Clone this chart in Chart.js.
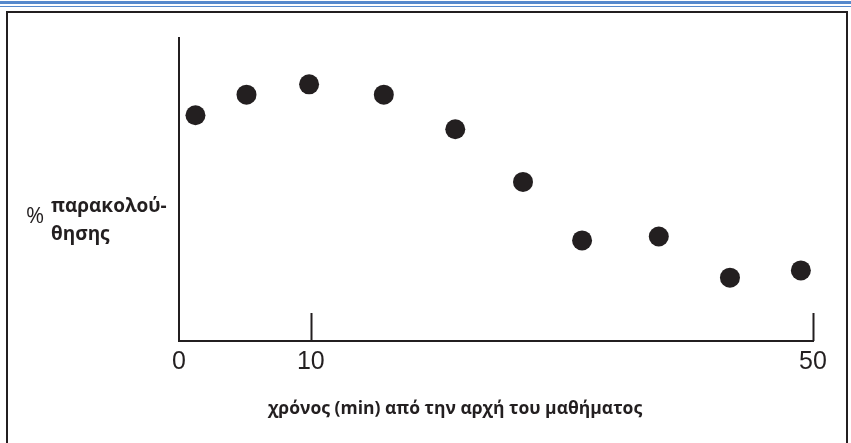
<!DOCTYPE html>
<html>
<head>
<meta charset="utf-8">
<script src="https://cdn.jsdelivr.net/npm/chart.js@4/dist/chart.umd.min.js"></script>
<style>
  html, body { margin: 0; padding: 0; background: #fff; }
  #wrap { position: relative; width: 851px; height: 443px; overflow: hidden; background: #fff; }
  #blue1 { position: absolute; left: 0; top: 1px; width: 851px; height: 3px; background: #5689cc; }
  #blue2 { position: absolute; left: 0; top: 6px; width: 851px; height: 1px; background: #5689cc; }
  #frame { position: absolute; left: 6px; top: 11px; width: 838px; height: 450px; border: 2px solid #231f20; }
  #c { position: absolute; left: 0; top: 0; }
</style>
</head>
<body>
<div id="wrap">
  <div id="blue1"></div>
  <div id="blue2"></div>
  <div id="frame"></div>
  <canvas id="c" width="851" height="443"></canvas>
</div>
<script>
// time since start of lesson (minutes)
const timeMin = [1.25, 5.12, 9.87, 15.54, 20.96, 26.1, 30.58, 36.4, 41.8, 47.18];
// % attention (arbitrary 0-100 scale, axis has no values)
const attentionPct = [74.5, 81.3, 84.7, 81.3, 69.9, 52.5, 33.2, 34.5, 20.9, 23.3];
// tick positions on the time axis and their labels
const xTickValues = [0, 10, 48.1];
const xTickLabels = ['0', '10', '50'];
const xAxisTitle = 'χρόνος (min) από την αρχή του μαθήματος';
const yAxisTitleLines = ['παρακολού-', 'θησης'];
const yAxisPercent = '%';

const ink = '#231f20';

const decor = {
  id: 'decor',
  afterDraw(chart) {
    const ctx = chart.ctx;
    const xs = chart.scales.x;
    const area = chart.chartArea;
    ctx.save();
    // upward tick marks at 10 and end of axis
    ctx.strokeStyle = ink;
    ctx.lineWidth = 2;
    [xTickValues[1], xTickValues[2]].forEach(v => {
      const px = Math.round(xs.getPixelForValue(v)) + 0.5;
      ctx.beginPath();
      ctx.moveTo(px, area.bottom);
      ctx.lineTo(px, area.bottom - 28);
      ctx.stroke();
    });
    // axis titles
    ctx.fillStyle = ink;
    ctx.textBaseline = 'alphabetic';
    ctx.textAlign = 'left';
    ctx.font = 'bold 17.5px "Open Sans"';
    ctx.fillText(xAxisTitle, 268, 414);
    ctx.font = 'bold 19px "Open Sans"';
    ctx.fillText(yAxisTitleLines[0], 51, 212);
    ctx.fillText(yAxisTitleLines[1], 51, 240);
    ctx.font = '22px "Open Sans"';
    ctx.fillText(yAxisPercent, 26, 223);
    ctx.restore();
  }
};

new Chart(document.getElementById('c'), {
  type: 'scatter',
  data: {
    datasets: [{
      data: timeMin.map((t, i) => ({ x: t, y: attentionPct[i] })),
      backgroundColor: ink,
      borderWidth: 0,
      pointRadius: 10,
      pointHoverRadius: 10,
      clip: false
    }]
  },
  options: {
    responsive: false,
    animation: false,
    events: [],
    layout: { padding: { left: 179, right: 38, top: 38, bottom: 0 } },
    plugins: { legend: { display: false }, tooltip: { enabled: false } },
    scales: {
      x: {
        type: 'linear',
        min: 0,
        max: xTickValues[2],
        grid: { display: false, drawTicks: false },
        border: { display: true, color: ink, width: 2 },
        afterBuildTicks: (s) => { s.ticks = xTickValues.map(v => ({ value: v })); },
        afterFit: (s) => { s.height = 102; },
        ticks: {
          color: ink,
          padding: 6,
          maxRotation: 0,
          autoSkip: false,
          font: { family: '"Liberation Sans"', size: 25 },
          callback: (v, i) => xTickLabels[i]
        }
      },
      y: {
        min: 0,
        max: 100,
        grid: { display: false, drawTicks: false },
        border: { display: true, color: ink, width: 2 },
        ticks: { display: false },
        afterFit: (s) => { s.width = 0; }
      }
    }
  },
  plugins: [decor]
});
</script>
</body>
</html>
